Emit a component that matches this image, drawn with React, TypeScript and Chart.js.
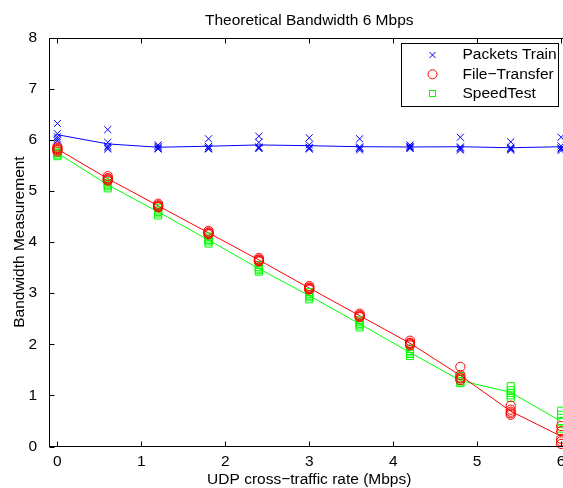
import React, { useEffect, useRef } from "react";
import { Chart, registerables } from "chart.js";

Chart.register(...registerables);

const FONT = "'Liberation Sans', Arial, Helvetica, sans-serif";
const FS = 15.5;

const titleText = "Theoretical Bandwidth 6 Mbps";
const xTitle = "UDP cross\u2212traffic rate (Mbps)";
const yTitle = "Bandwidth Measurement";
const seriesNames = ["Packets Train", "File\u2212Transfer", "SpeedTest"];

const rates = [0, 0.6, 1.2, 1.8, 2.4, 3.0, 3.6, 4.2, 4.8, 5.4, 6.0];
const xTicks = [0, 1, 2, 3, 4, 5, 6];
const yTicks = [0, 1, 2, 3, 4, 5, 6, 7, 8];

const packetsTrials = [
  [6.32, 6.12, 6.06, 6.02, 5.98],
  [6.2, 5.95, 5.88, 5.85, 5.82],
  [5.9, 5.87, 5.85, 5.83, 5.82],
  [6.02, 5.87, 5.84, 5.83, 5.82],
  [6.07, 5.95, 5.86, 5.84, 5.83],
  [6.04, 5.9, 5.85, 5.84, 5.82],
  [6.02, 5.86, 5.84, 5.83, 5.8],
  [5.9, 5.87, 5.86, 5.84, 5.83],
  [6.05, 5.86, 5.84, 5.82, 5.8],
  [5.96, 5.85, 5.83, 5.82, 5.8],
  [6.05, 5.88, 5.84, 5.82, 5.79],
];
const fileTrials = [
  [5.87, 5.84, 5.82, 5.8, 5.77],
  [5.29, 5.25, 5.24, 5.22, 5.2],
  [4.75, 4.72, 4.71, 4.69, 4.68],
  [4.22, 4.19, 4.18, 4.16, 4.15],
  [3.69, 3.66, 3.65, 3.63, 3.62],
  [3.14, 3.11, 3.1, 3.08, 3.07],
  [2.6, 2.57, 2.56, 2.54, 2.53],
  [2.07, 2.03, 2.02, 2.0, 1.98],
  [1.56, 1.4, 1.35, 1.33, 1.3],
  [0.8, 0.72, 0.68, 0.65, 0.62],
  [0.4, 0.3, 0.15, 0.1, 0.05],
];
const speedTrials = [
  [5.82, 5.77, 5.74, 5.71, 5.68],
  [5.2, 5.15, 5.12, 5.09, 5.05],
  [4.67, 4.62, 4.59, 4.56, 4.52],
  [4.11, 4.07, 4.04, 4.01, 3.97],
  [3.55, 3.51, 3.48, 3.45, 3.42],
  [3.02, 2.98, 2.95, 2.92, 2.88],
  [2.47, 2.43, 2.4, 2.37, 2.33],
  [1.91, 1.87, 1.84, 1.81, 1.77],
  [1.38, 1.32, 1.28, 1.25, 1.24],
  [1.18, 1.1, 1.05, 1.0, 0.95],
  [0.7, 0.62, 0.5, 0.35, 0.3],
];

const packetsMean = [6.1, 5.92, 5.855, 5.875, 5.9, 5.885, 5.865, 5.86, 5.865, 5.845, 5.865];
const fileMean = [5.82, 5.24, 4.71, 4.18, 3.65, 3.1, 2.56, 2.02, 1.39, 0.69, 0.2];
const speedMean = [5.74, 5.12, 4.59, 4.04, 3.48, 2.95, 2.4, 1.84, 1.29, 1.06, 0.49];

const BLUE = "#0000ff";
const RED = "#ff0000";
const GREEN = "#00ff00";

const toPoints = (trials: number[][]) =>
  rates.flatMap((x, i) => trials[i].map((y) => ({ x, y })));
const toLine = (vals: number[]) => rates.map((x, i) => ({ x, y: vals[i] }));

const framePlugin = {
  id: "frame",
  afterDraw(chart: any) {
    const { ctx, chartArea: a, scales } = chart;
    const L = Math.round(a.left) + 0.5;
    const R = Math.round(a.right) + 0.5;
    const T = Math.round(a.top) + 0.5;
    const B = Math.round(a.bottom) - 0.5;
    ctx.save();
    ctx.strokeStyle = "#000";
    ctx.lineWidth = 1;
    ctx.strokeRect(L, T, R - L, B - T);
    const tl = 5;
    ctx.beginPath();
    for (const v of xTicks) {
      const px = Math.round(scales.x.getPixelForValue(v)) + 0.5;
      ctx.moveTo(px, B);
      ctx.lineTo(px, B - tl);
      ctx.moveTo(px, T);
      ctx.lineTo(px, T + tl);
    }
    for (const v of yTicks) {
      const py = Math.round(scales.y.getPixelForValue(v)) + 0.5;
      ctx.moveTo(L, py);
      ctx.lineTo(L + tl, py);
      ctx.moveTo(R, py);
      ctx.lineTo(R - tl, py);
    }
    ctx.stroke();

    // legend
    const bx = 401.5, by = 43.5, bw = 157, bh = 63;
    ctx.fillStyle = "#fff";
    ctx.fillRect(bx, by, bw, bh);
    ctx.strokeStyle = "#000";
    ctx.strokeRect(bx, by, bw, bh);
    const rows = [55, 74.3, 93.5];
    const mx = 432.5;
    ctx.lineWidth = 1;
    ctx.strokeStyle = BLUE;
    ctx.beginPath();
    ctx.moveTo(mx - 3, rows[0] - 3);
    ctx.lineTo(mx + 3, rows[0] + 3);
    ctx.moveTo(mx + 3, rows[0] - 3);
    ctx.lineTo(mx - 3, rows[0] + 3);
    ctx.stroke();
    ctx.strokeStyle = RED;
    ctx.beginPath();
    ctx.arc(mx, rows[1], 4.5, 0, Math.PI * 2);
    ctx.stroke();
    ctx.strokeStyle = GREEN;
    ctx.strokeRect(mx - 3, rows[2] - 3, 6, 6);

    ctx.fillStyle = "#000";
    ctx.font = `${FS}px ${FONT}`;
    ctx.textAlign = "left";
    ctx.textBaseline = "middle";
    seriesNames.forEach((n, i) => ctx.fillText(n, 462.5, rows[i]));
    ctx.restore();
  },
};

export default function App() {
  const ref = useRef<HTMLCanvasElement | null>(null);
  useEffect(() => {
    if (!ref.current) return;
    const chart = new Chart(ref.current, {
      type: "scatter",
      data: {
        datasets: [
          {
            label: seriesNames[0],
            data: toPoints(packetsTrials),
            pointStyle: "crossRot",
            pointRadius: 5,
            pointBorderWidth: 1,
            borderColor: BLUE,
            backgroundColor: "transparent",
            clip: false,
          } as any,
          {
            label: seriesNames[1],
            data: toPoints(fileTrials),
            pointStyle: "circle",
            pointRadius: 4.6,
            pointBorderWidth: 1,
            borderColor: RED,
            backgroundColor: "transparent",
            clip: false,
          },
          {
            label: seriesNames[2],
            data: toPoints(speedTrials),
            pointStyle: "rect",
            pointRadius: 5,
            pointBorderWidth: 1,
            borderColor: GREEN,
            backgroundColor: "transparent",
            clip: false,
          },
          {
            label: seriesNames[0] + " mean",
            data: toLine(packetsMean),
            showLine: true,
            pointRadius: 0,
            borderWidth: 1,
            borderColor: BLUE,
          },
          {
            label: seriesNames[1] + " mean",
            data: toLine(fileMean),
            showLine: true,
            pointRadius: 0,
            borderWidth: 1,
            borderColor: RED,
          },
          {
            label: seriesNames[2] + " mean",
            data: toLine(speedMean),
            showLine: true,
            pointRadius: 0,
            borderWidth: 1,
            borderColor: GREEN,
          },
        ],
      },
      options: {
        responsive: false,
        animation: false,
        devicePixelRatio: 1,
        events: [],
        layout: { padding: { left: 0, right: 10.5, top: 0, bottom: 0 } },
        plugins: {
          legend: { display: false },
          tooltip: { enabled: false },
          title: {
            display: true,
            fullSize: false,
            text: titleText,
            color: "#000",
            font: { family: FONT, size: FS, weight: "normal" },
            padding: { top: 11, bottom: 8 },
          },
        },
        scales: {
          x: {
            type: "linear",
            position: "bottom",
            min: -0.1,
            max: 6.1,
            grid: { display: false, drawTicks: false },
            border: { display: false },
            ticks: {
              stepSize: 1,
              includeBounds: false,
              color: "#000",
              padding: 6,
              font: { family: FONT, size: FS },
            },
            title: {
              display: true,
              text: xTitle,
              color: "#000",
              font: { family: FONT, size: FS },
              padding: { top: 0, bottom: -1 },
            },
            afterFit: (s: any) => {
              s.height = 41.5;
            },
          },
          y: {
            type: "linear",
            position: "left",
            min: 0,
            max: 8,
            grid: { display: false, drawTicks: false },
            border: { display: false },
            ticks: {
              stepSize: 1,
              color: "#000",
              padding: 12,
              font: { family: FONT, size: FS },
            },
            title: {
              display: true,
              text: yTitle,
              color: "#000",
              font: { family: FONT, size: FS },
              padding: { top: 10, bottom: 0 },
            },
            afterFit: (s: any) => {
              s.width = 49;
            },
          },
        },
      } as any,
      plugins: [framePlugin],
    });
    return () => chart.destroy();
  }, []);

  return (
    <div
      style={{
        position: "fixed",
        left: 0,
        top: 0,
        width: 563,
        height: 488,
        overflow: "hidden",
        background: "#fff",
      }}
    >
      <canvas
        ref={ref}
        width={580}
        height={488}
        style={{ display: "block", width: 580, height: 488 }}
      />
    </div>
  );
}
